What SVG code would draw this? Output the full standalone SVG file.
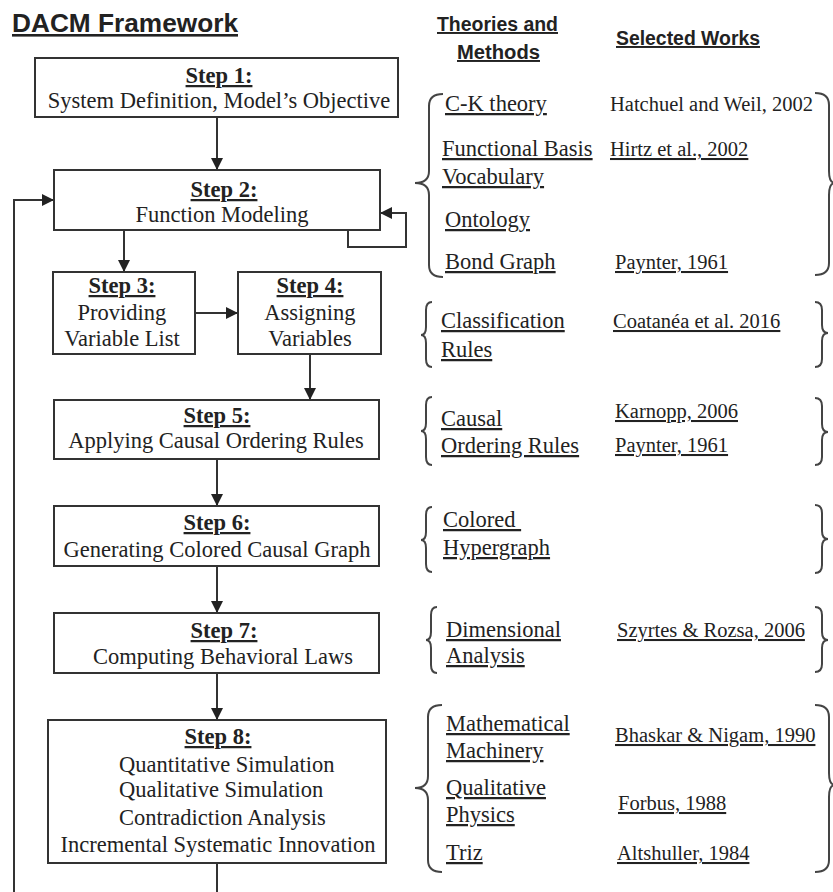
<svg xmlns="http://www.w3.org/2000/svg" width="833" height="892" viewBox="0 0 833 892">
<style>
.bg{fill:#ffffff}
.box{fill:#ffffff;stroke:#333333;stroke-width:2}
.ln{fill:none;stroke:#333333;stroke-width:2}
.br{fill:none;stroke:#444444;stroke-width:2}
text{fill:#222222}
.s{font-family:"Liberation Serif","Times New Roman",serif;font-size:22.5px}
.w{font-family:"Liberation Serif","Times New Roman",serif;font-size:20.5px}
.b{font-weight:bold;text-decoration:underline}
.u{text-decoration:underline}
.m{text-anchor:middle}
.h{font-family:"Liberation Sans",Arial,sans-serif;font-weight:bold;text-decoration:underline}
</style>
<defs>
<marker id="ah" markerWidth="12" markerHeight="12" refX="12" refY="6" orient="auto" markerUnits="userSpaceOnUse">
<path d="M0,0 L12,6 L0,12 z" fill="#222222"/>
</marker>
</defs>
<rect class="bg" x="0" y="0" width="833" height="892"/>

<g id="headings">
<text class="h" x="12" y="32" font-size="26" textLength="226" lengthAdjust="spacingAndGlyphs">DACM Framework</text>
<text class="h" x="437" y="31" font-size="19.5" textLength="121" lengthAdjust="spacingAndGlyphs">Theories and</text>
<text class="h" x="457" y="59" font-size="19.5" textLength="83" lengthAdjust="spacingAndGlyphs">Methods</text>
<text class="h" x="616" y="45" font-size="19.5" textLength="144" lengthAdjust="spacingAndGlyphs">Selected Works</text>
</g>

<g id="connectors">
<path class="ln" d="M217,117 V170" marker-end="url(#ah)"/>
<path class="ln" d="M124,230 V272" marker-end="url(#ah)"/>
<path class="ln" d="M195,313 H238" marker-end="url(#ah)"/>
<path class="ln" d="M310,354 V400" marker-end="url(#ah)"/>
<path class="ln" d="M217,459 V506" marker-end="url(#ah)"/>
<path class="ln" d="M217,566 V613" marker-end="url(#ah)"/>
<path class="ln" d="M217,673 V720" marker-end="url(#ah)"/>
<path class="ln" d="M217,863 V892"/>
<path class="ln" d="M14,892 V200 H54" marker-end="url(#ah)"/>
<path class="ln" d="M348,230 V247 H406 V213 H380" marker-end="url(#ah)"/>
</g>

<g id="step1">
<rect class="box" x="35" y="58" width="363" height="59"/>
<text class="s b m" x="219" y="83">Step 1:</text>
<text class="s m" x="219" y="108">System Definition, Model’s Objective</text>
</g>
<g id="step2">
<rect class="box" x="54" y="170" width="326" height="60"/>
<text class="s b m" x="224" y="197">Step 2:</text>
<text class="s m" x="222" y="222">Function Modeling</text>
</g>
<g id="step3">
<rect class="box" x="53" y="272" width="142" height="82"/>
<text class="s b m" x="122" y="293">Step 3:</text>
<text class="s m" x="122" y="320">Providing</text>
<text class="s m" x="122" y="346">Variable List</text>
</g>
<g id="step4">
<rect class="box" x="238" y="272" width="143" height="82"/>
<text class="s b m" x="310" y="293">Step 4:</text>
<text class="s m" x="310" y="320">Assigning</text>
<text class="s m" x="310" y="346">Variables</text>
</g>
<g id="step5">
<rect class="box" x="54" y="400" width="325" height="59"/>
<text class="s b m" x="217" y="423">Step 5:</text>
<text class="s m" x="216" y="448">Applying Causal Ordering Rules</text>
</g>
<g id="step6">
<rect class="box" x="54" y="506" width="325" height="60"/>
<text class="s b m" x="217" y="530">Step 6:</text>
<text class="s m" x="217" y="557">Generating Colored Causal Graph</text>
</g>
<g id="step7">
<rect class="box" x="54" y="613" width="325" height="60"/>
<text class="s b m" x="224" y="638">Step 7:</text>
<text class="s m" x="223" y="664">Computing Behavioral Laws</text>
</g>
<g id="step8">
<rect class="box" x="48" y="720" width="338" height="143"/>
<text class="s b m" x="218" y="744">Step 8:</text>
<text class="s" x="119" y="772">Quantitative Simulation</text>
<text class="s" x="119" y="797">Qualitative Simulation</text>
<text class="s" x="119" y="825">Contradiction Analysis</text>
<text class="s m" x="218" y="852">Incremental Systematic Innovation</text>
</g>

<g id="methods-step2">
<path class="br" d="M443,94 Q429,94 429,106 L429,171 Q429,183 415,183 Q429,183 429,195 L429,265 Q429,277 443,277"/>
<path class="br" d="M815,93 Q829,93 829,105 L829,171 Q829,183 835,183 Q829,183 829,195 L829,263 Q829,275 815,275"/>
<text class="s u" x="445" y="111">C-K theory</text>
<text class="w" x="610" y="111">Hatchuel and Weil, 2002</text>
<text class="s u" x="442" y="156">Functional Basis</text>
<text class="w u" x="610" y="156">Hirtz et al., 2002</text>
<text class="s u" x="442" y="184">Vocabulary</text>
<text class="s u" x="445" y="227">Ontology</text>
<text class="s u" x="445" y="269">Bond Graph</text>
<text class="w u" x="615" y="269">Paynter, 1961</text>
</g>

<g id="methods-step34">
<path class="br" d="M432,302 Q426,302 426,310 L426,327 Q426,335 421,335 Q426,335 426,343 L426,359 Q426,367 432,367"/>
<path class="br" d="M815,302 Q822,302 822,310 L822,325 Q822,333 828,333 Q822,333 822,341 L822,359 Q822,367 815,367"/>
<text class="s u" x="441" y="328">Classification</text>
<text class="s u" x="441" y="357">Rules</text>
<text class="w u" x="613" y="328">Coatanéa et al. 2016</text>
</g>

<g id="methods-step5">
<path class="br" d="M432,397 Q426,397 426,405 L426,423 Q426,431 421,431 Q426,431 426,439 L426,457 Q426,465 432,465"/>
<path class="br" d="M815,398 Q822,398 822,406 L822,424 Q822,432 828,432 Q822,432 822,440 L822,457 Q822,465 815,465"/>
<text class="s u" x="441" y="426">Causal</text>
<text class="s u" x="441" y="453">Ordering Rules</text>
<text class="w u" x="615" y="418">Karnopp, 2006</text>
<text class="w u" x="615" y="452">Paynter, 1961</text>
</g>

<g id="methods-step6">
<path class="br" d="M432,507 Q426,507 426,515 L426,532 Q426,540 421,540 Q426,540 426,548 L426,564 Q426,572 432,572"/>
<path class="br" d="M815,505 Q822,505 822,513 L822,531 Q822,539 828,539 Q822,539 822,547 L822,565 Q822,573 815,573"/>
<text class="s u" x="443" y="527" xml:space="preserve">Colored&#160;</text>
<text class="s u" x="443" y="555">Hypergraph</text>
</g>

<g id="methods-step7">
<path class="br" d="M437,607 Q431,607 431,615 L431,632 Q431,640 426,640 Q431,640 431,648 L431,665 Q431,673 437,673"/>
<path class="br" d="M815,607 Q822,607 822,615 L822,632 Q822,640 828,640 Q822,640 822,648 L822,664 Q822,672 815,672"/>
<text class="s u" x="446" y="637">Dimensional</text>
<text class="s u" x="446" y="663">Analysis</text>
<text class="w u" x="617" y="637">Szyrtes &amp; Rozsa, 2006</text>
</g>

<g id="methods-step8">
<path class="br" d="M442,705 Q428,705 428,717 L428,776 Q428,788 415,788 Q428,788 428,800 L428,860 Q428,872 442,872"/>
<path class="br" d="M815,705 Q829,705 829,717 L829,773 Q829,785 835,785 Q829,785 829,797 L829,860 Q829,872 815,872"/>
<text class="s u" x="446" y="731">Mathematical</text>
<text class="s u" x="446" y="758">Machinery</text>
<text class="w u" x="615" y="742">Bhaskar &amp; Nigam, 1990</text>
<text class="s u" x="446" y="795">Qualitative</text>
<text class="s u" x="446" y="822">Physics</text>
<text class="w u" x="618" y="810">Forbus, 1988</text>
<text class="s u" x="446" y="860">Triz</text>
<text class="w u" x="617" y="860">Altshuller, 1984</text>
</g>
</svg>
